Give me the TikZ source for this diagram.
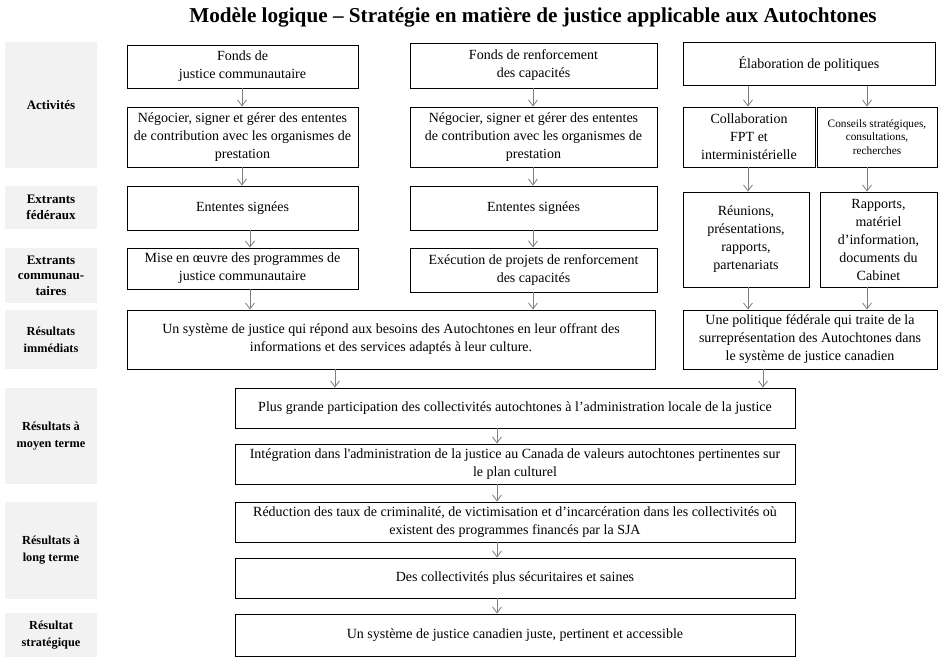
\documentclass[tikz,border=0pt]{standalone}
\usepackage{fontspec}
\setmainfont{Liberation Serif}[Ligatures=TeXOff]
\usetikzlibrary{arrows.meta}
\definecolor{lblgray}{HTML}{F2F2F2}
\definecolor{arrgray}{HTML}{7F7F7F}
\begin{document}
\begin{tikzpicture}[x=1pt,y=-1pt,
 box/.style={draw=black, line width=0.9pt, align=center, inner sep=1pt, font=\fontsize{14}{18}\selectfont},
 smallbox/.style={box, font=\fontsize{11.3}{13.5}\selectfont},
 lbl/.style={fill=lblgray, align=center, inner sep=1pt, font=\fontsize{13}{15.5}\selectfont\bfseries},
 lblb/.style={lbl, font=\fontsize{12.3}{17}\selectfont\bfseries},
 arr/.style={draw=arrgray, line width=0.8pt, -{Straight Barb[length=6pt,width=9pt]}}]
\useasboundingbox[fill=white] (0,0) rectangle (943,662);

\node[font=\fontsize{21.2}{24}\selectfont\bfseries] (title) at (533,17) {Modèle logique – Stratégie en matière de justice applicable aux Autochtones};

% labels
\node[lbl, minimum width=92, minimum height=126] (L1) at (51,105) {Activités};
\node[lbl, minimum width=92, minimum height=43] (L2) at (51,207.5) {Extrants\\fédéraux};
\node[lbl, minimum width=92, minimum height=55] (L3) at (51,275.5) {Extrants\\communau-\\taires};
\node[lblb, minimum width=92, minimum height=59] (L4) at (51,339.5) {Résultats\\immédiats};
\node[lblb, minimum width=92, minimum height=96] (L5) at (51,436) {Résultats à\\moyen terme};
\node[lblb, minimum width=92, minimum height=97] (L6) at (51,550.5) {Résultats à\\long terme};
\node[lblb, minimum width=92, minimum height=44] (L7) at (51,635) {Résultat\\stratégique};

% column 1
\node[box, minimum width=231, minimum height=43] (F1) at (242.5,66.5) {Fonds de\\justice communautaire};
\node[box, minimum width=231, minimum height=60] (N1) at (242.5,137) {Négocier, signer et gérer des ententes\\de contribution avec les organismes de\\prestation};
\node[box, minimum width=231, minimum height=44] (E1) at (242.5,208) {Ententes signées};
\node[box, minimum width=231, minimum height=41] (M1) at (242.5,268.5) {Mise en œuvre des programmes de\\justice communautaire};

% column 2
\node[box, minimum width=247, minimum height=45] (F2) at (533.5,65.5) {Fonds de renforcement\\des capacités};
\node[box, minimum width=247, minimum height=60] (N2) at (533.5,137) {Négocier, signer et gérer des ententes\\de contribution avec les organismes de\\prestation};
\node[box, minimum width=247, minimum height=44] (E2) at (533.5,208) {Ententes signées};
\node[box, minimum width=247, minimum height=44] (X2) at (533.5,270) {Exécution de projets de renforcement\\des capacités};

% column 3
\node[box, minimum width=252, minimum height=43] (EL) at (809,64) {Élaboration de politiques};
\node[box, minimum width=132, minimum height=60] (CO) at (749,137) {Collaboration\\FPT et\\interministérielle};
\node[smallbox, minimum width=120, minimum height=60] (CS) at (877,137) {Conseils stratégiques,\\consultations,\\recherches};
\node[box, minimum width=126, minimum height=95] (RE) at (746,239.5) {Réunions,\\présentations,\\rapports,\\partenariats};
\node[box, minimum width=117, minimum height=95] (RA) at (878.5,239.5) {Rapports,\\matériel\\d’information,\\documents du\\Cabinet};

% results
\node[box, minimum width=528, minimum height=59] (I1) at (391,339.5) {Un système de justice qui répond aux besoins des Autochtones en leur offrant des\\informations et des services adaptés à leur culture.};
\node[box, minimum width=254, minimum height=59] (I2) at (810,339.5) {Une politique fédérale qui traite de la\\surreprésentation des Autochtones dans\\le système de justice canadien};
\node[box, minimum width=560, minimum height=40] (P) at (515,408) {Plus grande participation des collectivités autochtones à l’administration locale de la justice};
\node[box, minimum width=560, minimum height=40] (IN) at (515,464) {Intégration dans l'administration de la justice au Canada de valeurs autochtones pertinentes sur\\le plan culturel};
\node[box, minimum width=560, minimum height=40] (R) at (515,522) {Réduction des taux de criminalité, de victimisation et d’incarcération dans les collectivités où\\existent des programmes financés par la SJA};
\node[box, minimum width=560, minimum height=40] (D) at (515,578) {Des collectivités plus sécuritaires et saines};
\node[box, minimum width=560, minimum height=42] (S) at (515,635) {Un système de justice canadien juste, pertinent et accessible};

% arrow x positions
\coordinate (a1) at (242,0);
\coordinate (a2) at (250,0);
\coordinate (a3) at (533,0);
\coordinate (a4) at (748,0);
\coordinate (a5) at (867,0);
\coordinate (a6) at (335,0);
\coordinate (a7) at (763,0);
\coordinate (a8) at (497,0);

\draw[arr] (F1.south -| a1) -- (N1.north -| a1);
\draw[arr] (N1.south -| a1) -- (E1.north -| a1);
\draw[arr] (E1.south -| a2) -- (M1.north -| a2);
\draw[arr] (M1.south -| a2) -- (I1.north -| a2);

\draw[arr] (F2.south -| a3) -- (N2.north -| a3);
\draw[arr] (N2.south -| a3) -- (E2.north -| a3);
\draw[arr] (E2.south -| a3) -- (X2.north -| a3);
\draw[arr] (X2.south -| a3) -- (I1.north -| a3);

\draw[arr] (EL.south -| a4) -- (CO.north -| a4);
\draw[arr] (EL.south -| a5) -- (CS.north -| a5);
\draw[arr] (CO.south -| a4) -- (RE.north -| a4);
\draw[arr] (CS.south -| a5) -- (RA.north -| a5);
\draw[arr] (RE.south -| a4) -- (I2.north -| a4);
\draw[arr] (RA.south -| a5) -- (I2.north -| a5);

\draw[arr] (I1.south -| a6) -- (P.north -| a6);
\draw[arr] (I2.south -| a7) -- (P.north -| a7);
\draw[arr] (P.south -| a8) -- (IN.north -| a8);
\draw[arr] (IN.south -| a8) -- (R.north -| a8);
\draw[arr] (R.south -| a8) -- (D.north -| a8);
\draw[arr] (D.south -| a8) -- (S.north -| a8);
\end{tikzpicture}
\end{document}
